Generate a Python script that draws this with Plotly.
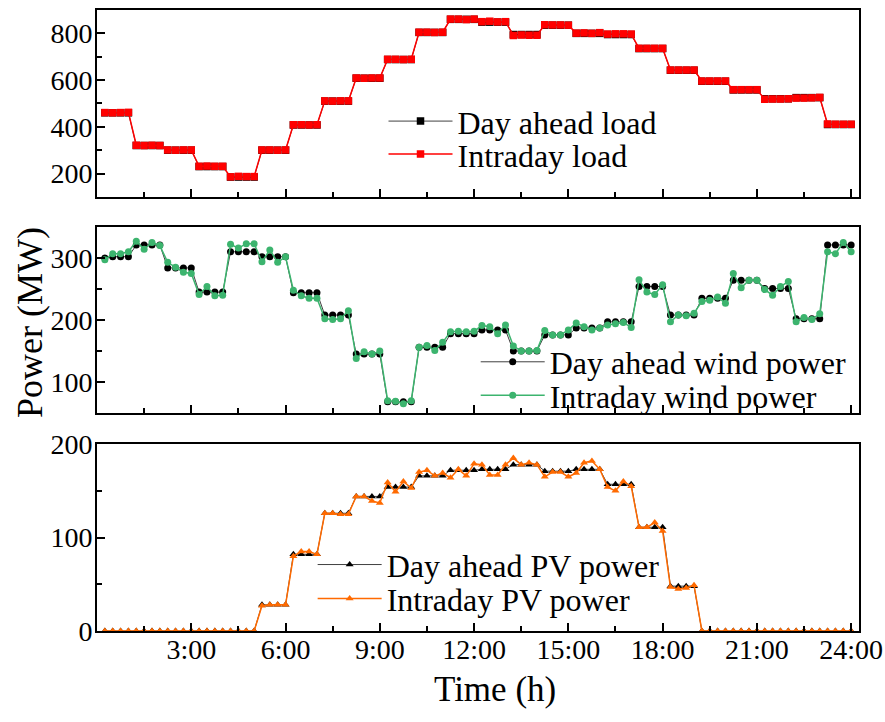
import plotly.graph_objects as go

# ---------------- data (15-min resolution, 96 points) ----------------
time_index = list(range(1, 97))
tick_positions = [12, 24, 36, 48, 60, 72, 84, 96]
tick_labels = ["3:00", "6:00", "9:00", "12:00", "15:00", "18:00", "21:00", "24:00"]

load_day_ahead = [
    460, 460, 460, 460, 320, 320, 320, 320, 300, 300, 300, 300,
    230, 230, 230, 230, 185, 185, 185, 185, 300, 300, 300, 300,
    408, 408, 408, 408, 510, 510, 510, 510, 608, 608, 608, 608,
    688, 688, 688, 688, 804, 804, 804, 804, 860, 860, 860, 860,
    848, 848, 848, 848, 795, 795, 795, 795, 835, 835, 835, 835,
    800, 800, 800, 800, 795, 795, 795, 795, 735, 735, 735, 735,
    642, 642, 642, 642, 595, 595, 595, 595, 558, 558, 558, 558,
    520, 520, 520, 520, 525, 525, 525, 525, 410, 410, 410, 410,
]
load_intraday = [
    461, 460, 461, 462, 321, 320, 321, 320, 301, 300, 301, 301,
    231, 232, 231, 231, 186, 188, 187, 187, 301, 301, 300, 301,
    409, 409, 408, 409, 511, 510, 511, 511, 609, 608, 609, 609,
    689, 689, 688, 689, 805, 805, 804, 805, 861, 861, 859, 861,
    850, 852, 849, 850, 791, 793, 792, 792, 837, 836, 836, 835,
    801, 802, 800, 803, 797, 798, 798, 797, 736, 736, 736, 736,
    643, 643, 643, 643, 596, 596, 596, 596, 559, 559, 559, 559,
    518, 519, 519, 520, 523, 523, 524, 526, 412, 411, 411, 411,
]

wind_day_ahead = [
    300, 302, 302, 302, 321, 321, 321, 321, 284, 284, 284, 284,
    245, 245, 245, 245, 310, 310, 310, 310, 302, 302, 302, 302,
    244, 244, 244, 244, 208, 208, 208, 208, 145, 145, 145, 145,
    68, 68, 68, 68, 156, 156, 156, 156, 178, 178, 178, 178,
    184, 184, 184, 184, 150, 150, 150, 150, 176, 176, 176, 176,
    187, 187, 187, 187, 197, 197, 197, 197, 254, 254, 254, 254,
    208, 208, 208, 208, 235, 235, 235, 235, 264, 264, 264, 264,
    251, 251, 251, 251, 202, 202, 202, 202, 321, 321, 321, 321,
]
wind_intraday = [
    297, 307, 307, 310, 327, 314, 325, 320, 293, 285, 277, 275,
    241, 254, 239, 240, 322, 316, 323, 323, 294, 313, 293, 302,
    248, 239, 235, 235, 202, 201, 202, 215, 138, 149, 145, 150,
    70, 69, 65, 70, 156, 159, 151, 164, 181, 182, 181, 182,
    191, 189, 178, 192, 158, 150, 150, 151, 183, 176, 176, 184,
    195, 189, 184, 187, 192, 194, 196, 188, 265, 245, 241, 257,
    197, 208, 207, 211, 230, 232, 237, 227, 275, 252, 264, 264,
    249, 240, 254, 262, 197, 204, 201, 210, 310, 307, 325, 310,
]

pv_day_ahead = [
    0, 0, 0, 0, 0, 0, 0, 0, 0, 0, 0, 0,
    0, 0, 0, 0, 0, 0, 0, 0, 28, 28, 28, 28,
    82, 82, 82, 82, 126, 126, 126, 126, 144, 144, 144, 144,
    154, 154, 154, 154, 166, 166, 166, 166, 172, 172, 172, 172,
    173, 173, 173, 173, 178, 178, 178, 178, 171, 171, 171, 171,
    173, 173, 173, 173, 157, 157, 157, 157, 111, 111, 111, 111,
    48, 48, 48, 48, 0, 0, 0, 0, 0, 0, 0, 0,
    0, 0, 0, 0, 0, 0, 0, 0, 0, 0, 0, 0,
]
pv_intraday = [
    0, 0, 0, 0, 0, 0, 0, 0, 0, 0, 0, 0,
    0, 0, 0, 0, 0, 0, 0, 0, 27, 28, 28, 28,
    80, 85, 85, 82, 126, 126, 125, 125, 144, 144, 139, 137,
    159, 149, 160, 153, 170, 172, 166, 169, 164, 173, 166, 179,
    178, 167, 167, 178, 185, 178, 180, 178, 165, 170, 170, 165,
    169, 180, 182, 173, 154, 150, 160, 155, 111, 111, 116, 107,
    47, 45, 46, 49, 0, 0, 0, 0, 0, 0, 0, 0,
    0, 0, 0, 0, 0, 0, 0, 0, 0, 0, 0, 0,
]

# ---------------- styling ----------------
FONT = "Liberation Serif, Times New Roman, serif"
RED = "#ff0000"
GREEN = "#3cb46e"
ORANGE = "#ff6a00"

fig = go.Figure()

def add_pair(xa, ya, y_da, y_id, name_da, name_id, symbol, color, msize, leg_da, leg_id, clip=True):
    fig.add_trace(go.Scatter(
        x=time_index, y=y_da, name=name_da, mode="lines+markers",
        xaxis=xa, yaxis=ya, legend=leg_da, cliponaxis=clip,
        line=dict(color="#404040", width=1),
        marker=dict(symbol=symbol, size=msize, color="black"),
    ))
    fig.add_trace(go.Scatter(
        x=time_index, y=y_id, name=name_id, mode="lines+markers",
        xaxis=xa, yaxis=ya, legend=leg_id, cliponaxis=clip,
        line=dict(color=color, width=1.5),
        marker=dict(symbol=symbol, size=msize, color=color),
    ))

add_pair("x", "y", load_day_ahead, load_intraday, "Day ahead load", "Intraday load",
         "square", RED, 7.5, "legend", "legend2")
add_pair("x2", "y2", wind_day_ahead, wind_intraday, "Day ahead wind power", "Intraday wind power",
         "circle", GREEN, 7, "legend3", "legend4")
add_pair("x3", "y3", pv_day_ahead, pv_intraday, "Day ahead PV power", "Intraday PV power",
         "triangle-up", ORANGE, 7, "legend5", "legend6", clip=False)


def xaxis_style(anchor, labels):
    return dict(
        domain=[0, 1], anchor=anchor, range=[0, 97], automargin=False,
        tickmode="array", tickvals=tick_positions, ticktext=tick_labels,
        showticklabels=labels,
        tickfont=dict(family=FONT, size=28, color="black"),
        ticks="inside", ticklen=8, tickwidth=1.5, tickcolor="black",
        minor=dict(tickmode="linear", tick0=0, dtick=6, ticks="inside", ticklen=5,
                   tickwidth=1.5, tickcolor="black"),
        showline=True, linewidth=2, linecolor="black", mirror=True,
        showgrid=False, zeroline=False, ticklabelstandoff=-8,
    )

def yaxis_style(anchor, domain, rng, dtick):
    return dict(
        domain=domain, anchor=anchor, range=rng, automargin=False,
        tickmode="linear", tick0=0, dtick=dtick,
        tickfont=dict(family=FONT, size=28, color="black"),
        ticks="inside", ticklen=8, tickwidth=1.5, tickcolor="black",
        minor=dict(tickmode="linear", tick0=0, dtick=dtick / 2, ticks="inside", ticklen=5,
                   tickwidth=1.5, tickcolor="black"),
        showline=True, linewidth=2, linecolor="black", mirror=True,
        showgrid=False, zeroline=False, ticklabelstandoff=-3,
    )

def legend_at(xp, yp):
    return dict(x=xp, y=yp, xanchor="left", yanchor="middle", bgcolor="rgba(0,0,0,0)",
                borderwidth=0, font=dict(family=FONT, size=32, color="black"),
                itemwidth=64, itemclick=False, tracegroupgap=0)

fig.update_layout(
    width=885, height=722,
    margin=dict(l=97, r=26, t=10, b=91, autoexpand=False),
    paper_bgcolor="white", plot_bgcolor="white",
    font=dict(family=FONT, color="black"),
    showlegend=True,
    xaxis=xaxis_style("y", False),
    xaxis2=xaxis_style("y2", False),
    xaxis3=xaxis_style("y3", True),
    yaxis=yaxis_style("x", [0.699, 1.0], [100, 900], 200),
    yaxis2=yaxis_style("x2", [0.351, 0.6506], [50, 350], 100),
    yaxis3=yaxis_style("x3", [0.0, 0.301], [0, 200], 100),
    legend=legend_at(0.376, 0.8208),
    legend2=legend_at(0.376, 0.7677),
    legend3=legend_at(0.497, 0.4332),
    legend4=legend_at(0.497, 0.3794),
    legend5=legend_at(0.283, 0.1067),
    legend6=legend_at(0.283, 0.0519),
    annotations=[
        dict(text="Power (MW)", xref="paper", yref="paper", x=-0.088, y=0.4976,
             xanchor="center", yanchor="middle", textangle=-90, showarrow=False,
             font=dict(family=FONT, size=36, color="black")),
        dict(text="Time (h)", xref="paper", yref="paper", x=0.522, y=-0.095,
             xanchor="center", yanchor="middle", showarrow=False,
             font=dict(family=FONT, size=35, color="black")),
    ],
)

fig.write_html("out.html")
